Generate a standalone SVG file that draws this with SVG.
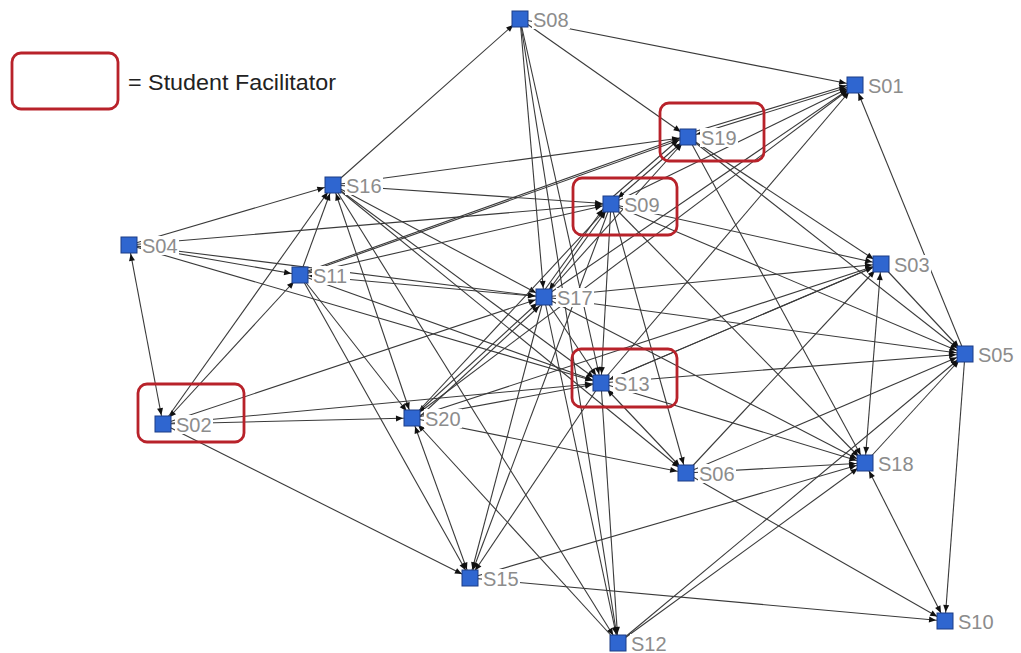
<svg xmlns="http://www.w3.org/2000/svg" width="1021" height="653" viewBox="0 0 1021 653">
<style>
.e{stroke:#3a3a3a;stroke-width:1.1;fill:none;marker-end:url(#ah)}
.b{marker-start:url(#ah)}
.n rect.sq{fill:#2f66d0;stroke:#1c3c86;stroke-width:1}
.n rect.bg{fill:#fff}
.n text{font-family:"Liberation Sans",Arial,sans-serif;font-size:20px;fill:#8c8c8c}
.fac{fill:none;stroke:#b8222a;stroke-width:2.8}
</style>
<defs>
<marker id="ah" markerUnits="userSpaceOnUse" markerWidth="8" markerHeight="7" refX="16" refY="3" orient="auto-start-reverse" overflow="visible">
<path d="M0,0 L7,3 L0,6 z" fill="#111"/>
</marker>
</defs>
<rect width="1021" height="653" fill="#fff"/>
<g id="legend">
<rect class="fac" x="12" y="53" width="106" height="56" rx="9"/>
<text x="128" y="90" font-family="'Liberation Sans',Arial,sans-serif" font-size="21.5" fill="#222" textLength="208" lengthAdjust="spacingAndGlyphs">= Student Facilitator</text>
</g>
<g id="connectors">
<line class="e" x1="333" y1="185" x2="520" y2="19"/>
<line class="e" x1="520" y1="19" x2="855" y2="85"/>
<line class="e" x1="520" y1="19" x2="688" y2="137"/>
<line class="e" x1="520" y1="19" x2="544" y2="297"/>
<line class="e" x1="520" y1="19" x2="601" y2="383"/>
<line class="e" x1="520" y1="19" x2="618" y2="643"/>
<line class="e b" x1="688" y1="137" x2="855" y2="85"/>
<line class="e" x1="690" y1="133" x2="855" y2="83"/>
<line class="e" x1="611" y1="204" x2="855" y2="85"/>
<line class="e" x1="544" y1="297" x2="855" y2="85"/>
<line class="e" x1="412" y1="418" x2="855" y2="85"/>
<line class="e" x1="601" y1="383" x2="855" y2="85"/>
<line class="e" x1="965" y1="354" x2="855" y2="85"/>
<line class="e" x1="333" y1="185" x2="688" y2="137"/>
<line class="e" x1="333" y1="185" x2="611" y2="204"/>
<line class="e" x1="300" y1="275" x2="688" y2="137"/>
<line class="e" x1="302" y1="273" x2="688" y2="135"/>
<line class="e" x1="300" y1="275" x2="611" y2="204"/>
<line class="e" x1="129" y1="245" x2="333" y2="185"/>
<line class="e" x1="129" y1="245" x2="611" y2="204"/>
<line class="e" x1="129" y1="245" x2="300" y2="275"/>
<line class="e" x1="129" y1="245" x2="544" y2="297"/>
<line class="e" x1="129" y1="245" x2="601" y2="383"/>
<line class="e b" x1="129" y1="245" x2="163" y2="424"/>
<line class="e" x1="300" y1="275" x2="333" y2="185"/>
<line class="e" x1="163" y1="424" x2="333" y2="185"/>
<line class="e b" x1="163" y1="424" x2="300" y2="275"/>
<line class="e b" x1="300" y1="275" x2="544" y2="297"/>
<line class="e" x1="300" y1="275" x2="601" y2="383"/>
<line class="e" x1="300" y1="275" x2="412" y2="418"/>
<line class="e" x1="300" y1="275" x2="470" y2="578"/>
<line class="e" x1="333" y1="185" x2="544" y2="297"/>
<line class="e" x1="333" y1="185" x2="601" y2="383"/>
<line class="e b" x1="333" y1="185" x2="412" y2="418"/>
<line class="e" x1="333" y1="185" x2="618" y2="643"/>
<line class="e" x1="333" y1="185" x2="686" y2="473"/>
<line class="e" x1="163" y1="424" x2="544" y2="297"/>
<line class="e" x1="163" y1="424" x2="412" y2="418"/>
<line class="e" x1="163" y1="424" x2="601" y2="383"/>
<line class="e" x1="163" y1="424" x2="470" y2="578"/>
<line class="e b" x1="412" y1="418" x2="544" y2="297"/>
<line class="e" x1="415" y1="421" x2="546" y2="300"/>
<line class="e" x1="412" y1="418" x2="611" y2="204"/>
<line class="e" x1="412" y1="418" x2="601" y2="383"/>
<line class="e" x1="412" y1="418" x2="686" y2="473"/>
<line class="e b" x1="412" y1="418" x2="470" y2="578"/>
<line class="e" x1="412" y1="418" x2="881" y2="264"/>
<line class="e" x1="618" y1="643" x2="412" y2="418"/>
<line class="e b" x1="544" y1="297" x2="611" y2="204"/>
<line class="e" x1="541" y1="295" x2="608" y2="202"/>
<line class="e" x1="544" y1="297" x2="688" y2="137"/>
<line class="e" x1="544" y1="297" x2="881" y2="264"/>
<line class="e" x1="544" y1="297" x2="965" y2="354"/>
<line class="e" x1="544" y1="297" x2="601" y2="383"/>
<line class="e" x1="544" y1="297" x2="865" y2="463"/>
<line class="e" x1="544" y1="297" x2="470" y2="578"/>
<line class="e" x1="544" y1="297" x2="618" y2="643"/>
<line class="e b" x1="611" y1="204" x2="688" y2="137"/>
<line class="e" x1="608" y1="201" x2="685" y2="134"/>
<line class="e" x1="611" y1="204" x2="881" y2="264"/>
<line class="e" x1="611" y1="204" x2="965" y2="354"/>
<line class="e" x1="611" y1="204" x2="601" y2="383"/>
<line class="e" x1="611" y1="204" x2="686" y2="473"/>
<line class="e" x1="611" y1="204" x2="865" y2="463"/>
<line class="e" x1="611" y1="204" x2="470" y2="578"/>
<line class="e" x1="688" y1="137" x2="881" y2="264"/>
<line class="e" x1="688" y1="137" x2="965" y2="354"/>
<line class="e" x1="688" y1="137" x2="865" y2="463"/>
<line class="e" x1="881" y1="264" x2="965" y2="354"/>
<line class="e b" x1="865" y1="463" x2="881" y2="264"/>
<line class="e" x1="881" y1="264" x2="601" y2="383"/>
<line class="e" x1="601" y1="383" x2="881" y2="264"/>
<line class="e" x1="686" y1="473" x2="881" y2="264"/>
<line class="e" x1="601" y1="383" x2="965" y2="354"/>
<line class="e" x1="686" y1="473" x2="965" y2="354"/>
<line class="e" x1="865" y1="463" x2="965" y2="354"/>
<line class="e" x1="618" y1="643" x2="965" y2="354"/>
<line class="e" x1="965" y1="354" x2="945" y2="621"/>
<line class="e b" x1="601" y1="383" x2="686" y2="473"/>
<line class="e" x1="601" y1="383" x2="865" y2="463"/>
<line class="e" x1="601" y1="383" x2="618" y2="643"/>
<line class="e" x1="601" y1="383" x2="470" y2="578"/>
<line class="e" x1="686" y1="473" x2="865" y2="463"/>
<line class="e" x1="686" y1="473" x2="945" y2="621"/>
<line class="e b" x1="865" y1="463" x2="945" y2="621"/>
<line class="e" x1="470" y1="578" x2="865" y2="463"/>
<line class="e" x1="618" y1="643" x2="865" y2="463"/>
<line class="e" x1="470" y1="578" x2="945" y2="621"/>
</g>
<g id="S08" class="n"><rect class="bg" x="532" y="10" width="38" height="19"/><rect class="sq" x="512" y="11" width="16" height="16"/><text x="533" y="27">S08</text></g>
<g id="S01" class="n"><rect class="bg" x="867" y="76" width="38" height="19"/><rect class="sq" x="847" y="77" width="16" height="16"/><text x="868" y="93">S01</text></g>
<g id="S19" class="n"><rect class="bg" x="700" y="128" width="38" height="19"/><rect class="sq" x="680" y="129" width="16" height="16"/><text x="701" y="145">S19</text></g>
<g id="S09" class="n"><rect class="bg" x="623" y="195" width="38" height="19"/><rect class="sq" x="603" y="196" width="16" height="16"/><text x="624" y="212">S09</text></g>
<g id="S16" class="n"><rect class="bg" x="345" y="176" width="38" height="19"/><rect class="sq" x="325" y="177" width="16" height="16"/><text x="346" y="193">S16</text></g>
<g id="S04" class="n"><rect class="bg" x="141" y="236" width="38" height="19"/><rect class="sq" x="121" y="237" width="16" height="16"/><text x="142" y="253">S04</text></g>
<g id="S11" class="n"><rect class="bg" x="312" y="266" width="38" height="19"/><rect class="sq" x="292" y="267" width="16" height="16"/><text x="313" y="283">S11</text></g>
<g id="S03" class="n"><rect class="bg" x="893" y="255" width="38" height="19"/><rect class="sq" x="873" y="256" width="16" height="16"/><text x="894" y="272">S03</text></g>
<g id="S17" class="n"><rect class="bg" x="556" y="288" width="38" height="19"/><rect class="sq" x="536" y="289" width="16" height="16"/><text x="557" y="305">S17</text></g>
<g id="S05" class="n"><rect class="bg" x="977" y="345" width="38" height="19"/><rect class="sq" x="957" y="346" width="16" height="16"/><text x="978" y="362">S05</text></g>
<g id="S13" class="n"><rect class="bg" x="613" y="374" width="38" height="19"/><rect class="sq" x="593" y="375" width="16" height="16"/><text x="614" y="391">S13</text></g>
<g id="S02" class="n"><rect class="bg" x="175" y="415" width="38" height="19"/><rect class="sq" x="155" y="416" width="16" height="16"/><text x="176" y="432">S02</text></g>
<g id="S20" class="n"><rect class="bg" x="424" y="409" width="38" height="19"/><rect class="sq" x="404" y="410" width="16" height="16"/><text x="425" y="426">S20</text></g>
<g id="S06" class="n"><rect class="bg" x="698" y="464" width="38" height="19"/><rect class="sq" x="678" y="465" width="16" height="16"/><text x="699" y="481">S06</text></g>
<g id="S18" class="n"><rect class="bg" x="877" y="454" width="38" height="19"/><rect class="sq" x="857" y="455" width="16" height="16"/><text x="878" y="471">S18</text></g>
<g id="S15" class="n"><rect class="bg" x="482" y="569" width="38" height="19"/><rect class="sq" x="462" y="570" width="16" height="16"/><text x="483" y="586">S15</text></g>
<g id="S12" class="n"><rect class="bg" x="630" y="634" width="38" height="19"/><rect class="sq" x="610" y="635" width="16" height="16"/><text x="631" y="651">S12</text></g>
<g id="S10" class="n"><rect class="bg" x="957" y="612" width="38" height="19"/><rect class="sq" x="937" y="613" width="16" height="16"/><text x="958" y="629">S10</text></g>
<g id="facilitators">
<rect class="fac" x="660" y="103" width="104" height="58" rx="9"/>
<rect class="fac" x="573" y="178" width="104" height="57" rx="9"/>
<rect class="fac" x="572" y="349" width="105" height="58" rx="9"/>
<rect class="fac" x="138" y="384" width="106" height="58" rx="9"/>
</g>
</svg>
